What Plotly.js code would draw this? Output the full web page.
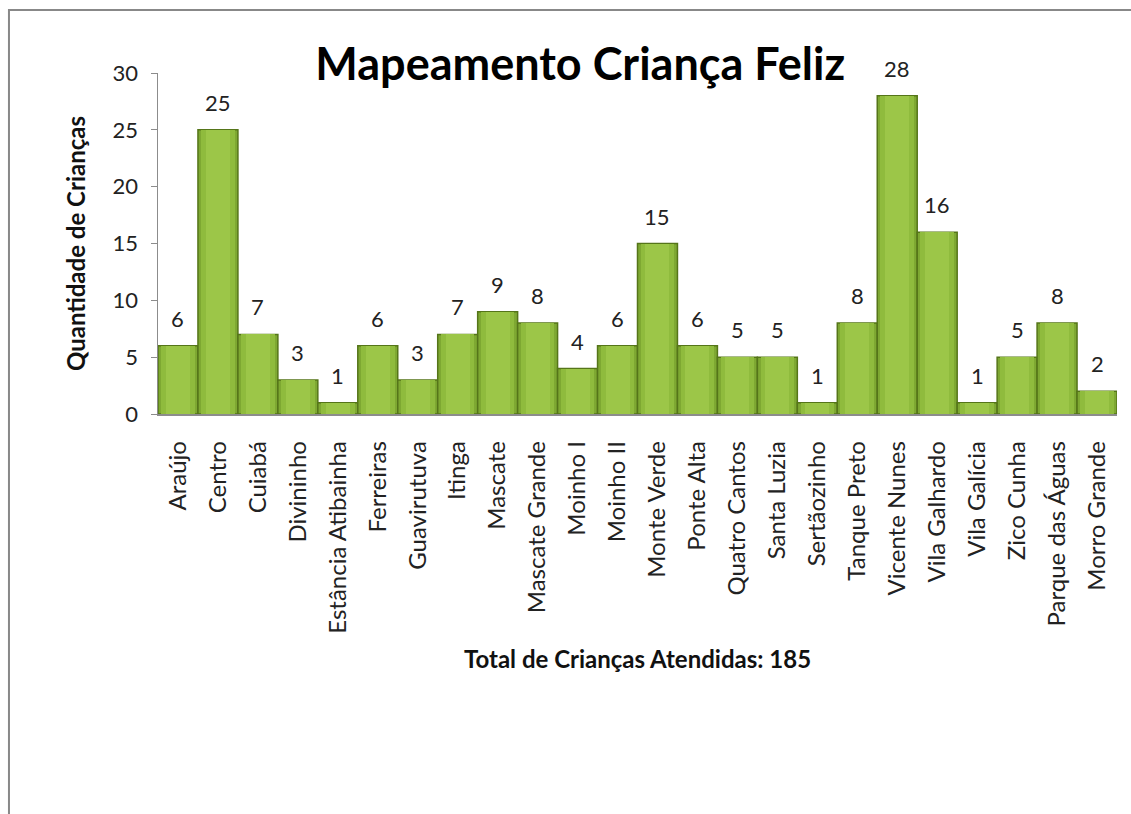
<!DOCTYPE html>
<html>
<head>
<meta charset="utf-8">
<script src="https://cdn.plot.ly/plotly-3.0.1.min.js"></script>
<style>
html,body{margin:0;padding:0;background:#fff;}
#chart{width:1131px;height:814px;}
</style>
</head>
<body>
<div id="chart"></div>
<script>
const bairros = ["Araújo","Centro","Cuiabá","Divininho","Estância Atibainha","Ferreiras","Guavirutuva","Itinga","Mascate","Mascate Grande","Moinho I","Moinho II","Monte Verde","Ponte Alta","Quatro Cantos","Santa Luzia","Sertãozinho","Tanque Preto","Vicente Nunes","Vila Galhardo","Vila Galícia","Zico Cunha","Parque das Águas","Morro Grande"];
const criancas = [6,25,7,3,1,6,3,7,9,8,4,6,15,6,5,5,1,8,28,16,1,5,8,2];
const yTicks = [0,5,10,15,20,25,30];
const titulo = "Mapeamento Criança Feliz";
const tituloY = "Quantidade de Crianças";
const tituloX = "Total de Crianças Atendidas: 185";

const font = "Lato, 'Open Sans', sans-serif";

// layered bars to imitate the cylinder-like gradient
const base = {
  type: "bar", x: bairros, y: criancas, hoverinfo: "skip"
};
const traces = [
  Object.assign({}, base, {width: 1.0, marker: {color: "#7ea832", line: {color: "#557519", width: 1.5}}}),
  Object.assign({}, base, {width: 0.84, marker: {color: "#8fbb3d", line: {width: 0}}}),
  Object.assign({}, base, {width: 0.6, marker: {color: "#9cc648", line: {width: 0}}})
];

const annotations = bairros.map((b, i) => ({
  x: b, y: criancas[i], xref: "x", yref: "y",
  text: String(criancas[i]), showarrow: false,
  yanchor: "bottom", yshift: 12,
  font: {family: font, size: 22, color: "#222"}
}));

const layout = {
  width: 1131, height: 814,
  margin: {l: 158, r: 14, t: 73, b: 400},
  paper_bgcolor: "#fff", plot_bgcolor: "#fff",
  barmode: "overlay",
  bargap: 0,
  showlegend: false,
  title: {text: "<b>" + titulo + "</b>", x: 0.513, xref: "container", xanchor: "center", y: 0.921, yref: "container", yanchor: "middle", font: {family: font, size: 45, color: "#000"}},
  xaxis: {
    type: "category",
    tickangle: -90,
    tickfont: {family: font, size: 24, color: "#222"},
    ticklabelstandoff: 16,
    showline: true, linecolor: "#8c8c8c", linewidth: 1.5,
    ticks: "", showgrid: false,
    title: {text: "<b>" + tituloX + "</b>", font: {family: font, size: 24, color: "#111"}, standoff: 18}
  },
  yaxis: {
    range: [0, 30],
    tickvals: yTicks,
    tickfont: {family: font, size: 22, color: "#222"},
    ticklabelstandoff: 8,
    showline: true, linecolor: "#8c8c8c", linewidth: 1.5,
    ticks: "outside", ticklen: 6, tickcolor: "#8c8c8c",
    showgrid: false, zeroline: false,
    title: {text: "<b>" + tituloY + "</b>", font: {family: font, size: 24, color: "#111"}, standoff: 20}
  },
  annotations: annotations,
  shapes: [{
    type: "rect", xref: "paper", yref: "paper",
    x0: -0.1554, x1: 1.05, y0: -2.0, y1: 1.185,
    line: {color: "#888", width: 2}, fillcolor: "rgba(0,0,0,0)", layer: "below"
  }]
};

Plotly.newPlot("chart", traces, layout, {displayModeBar: false, staticPlot: true});
</script>
</body>
</html>
